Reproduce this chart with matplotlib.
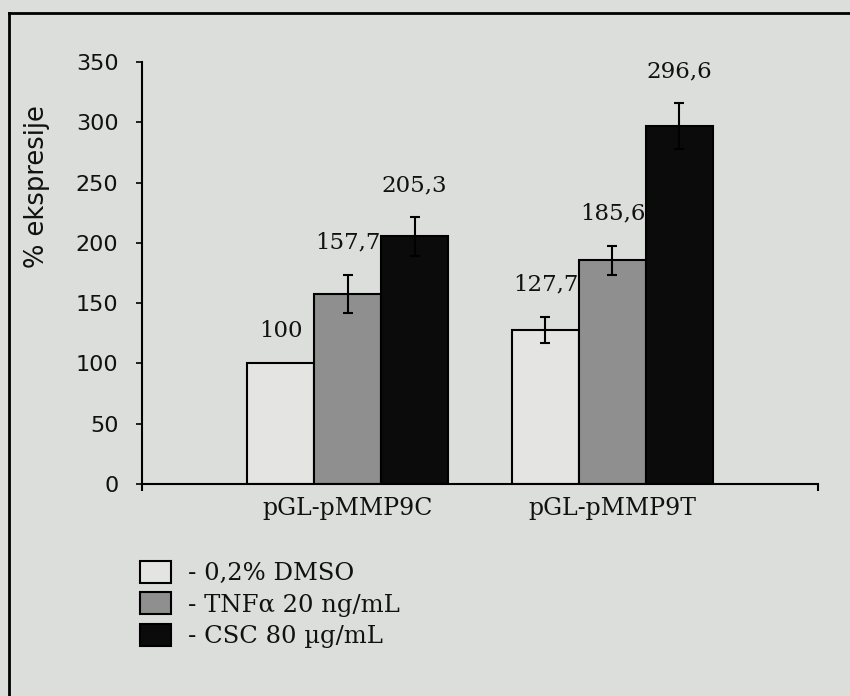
import matplotlib
matplotlib.use("Agg")
import matplotlib.pyplot as plt
from matplotlib.lines import Line2D
import numpy as np

# ---- data ----
categories = ["pGL-pMMP9C", "pGL-pMMP9T"]
series_names = ["- 0,2% DMSO", "- TNF\u03b1 20 ng/mL", "- CSC 80 \u00b5g/mL"]
dmso = [100.0, 127.7]
tnf = [157.7, 185.6]
csc = [205.3, 296.6]
dmso_err = [0.0, 11.0]
tnf_err = [16.0, 12.0]
csc_err = [16.0, 19.0]
value_labels_dmso = ["100", "127,7"]
value_labels_tnf = ["157,7", "185,6"]
value_labels_csc = ["205,3", "296,6"]
yticks = [0, 50, 100, 150, 200, 250, 300, 350]

bg = "#dcdedb"
colors = ["#e4e5e3", "#8f8f8f", "#0b0b0b"]

fig = plt.figure(figsize=(8.5, 6.96), dpi=100)
fig.patch.set_facecolor(bg)

W, H = 850, 696
ax = fig.add_axes([142 / W, 1 - 484 / H, (818 - 142) / W, (484 - 62) / H])
ax.set_facecolor("none")

x = np.arange(len(categories))
bw = 0.2528
offsets = [-bw, 0.0, bw]
all_vals = [dmso, tnf, csc]
all_errs = [dmso_err, tnf_err, csc_err]
all_labels = [value_labels_dmso, value_labels_tnf, value_labels_csc]

handles = []
for i, (vals, errs, labs) in enumerate(zip(all_vals, all_errs, all_labels)):
    xs = x + offsets[i]
    b = ax.bar(xs, vals, width=bw, color=colors[i], edgecolor="black",
               linewidth=1.5, zorder=2)
    handles.append(b)
    for xi, v, e, lab in zip(xs, vals, errs, labs):
        if e > 0:
            ax.errorbar(xi, v, yerr=e, fmt="none", ecolor="black",
                        elinewidth=1.5, capsize=3.8, capthick=1.5, zorder=3)
        ax.annotate(lab, xy=(xi, v + e), xytext=(0, 23), textcoords="offset points",
                    ha="center", va="center", fontsize=16.5,
                    family="DejaVu Serif", color="#111111")

ax.set_xlim(-0.776, 1.776)
ax.set_ylim(0, 350)

for s in ["top", "right"]:
    ax.spines[s].set_visible(False)
for s in ["left", "bottom"]:
    ax.spines[s].set_linewidth(1.5)
    ax.spines[s].set_color("black")

ax.set_yticks(yticks)
ax.set_yticklabels([str(t) for t in yticks], fontsize=16, family="DejaVu Sans",
                   color="#111111")
ax.tick_params(axis="y", direction="out", length=4, width=1.2, pad=13)

ax.set_xticks(x)
ax.set_xticklabels(categories, fontsize=17, family="DejaVu Serif", color="#111111")
ax.tick_params(axis="x", which="major", length=0, pad=9)
ax.set_xticks([-0.776, 1.776], minor=True)
ax.tick_params(axis="x", which="minor", direction="out", length=5, width=1.5)

fig.text(37 / W, 1 - 187 / H, "% ekspresije", rotation=90, ha="center", va="center",
         fontsize=18.5, family="DejaVu Sans", color="#111111")

leg = fig.legend(handles, series_names, loc="upper left",
                 bbox_to_anchor=(140 / W, 1 - 561 / H), frameon=False,
                 borderpad=0, borderaxespad=0, handlelength=1.28, handleheight=1.0,
                 handletextpad=0.7, labelspacing=0.3,
                 prop={"family": "DejaVu Serif", "size": 17.5})
for t in leg.get_texts():
    t.set_color("#111111")

# page frame from the scan
fig.add_artist(Line2D([9 / W, 9 / W], [0, 1 - 13 / H], transform=fig.transFigure,
                      color="black", linewidth=2))
fig.add_artist(Line2D([9 / W, 1], [1 - 13 / H, 1 - 13 / H], transform=fig.transFigure,
                      color="black", linewidth=2))

fig.savefig("out.png", dpi=100, facecolor=bg)
